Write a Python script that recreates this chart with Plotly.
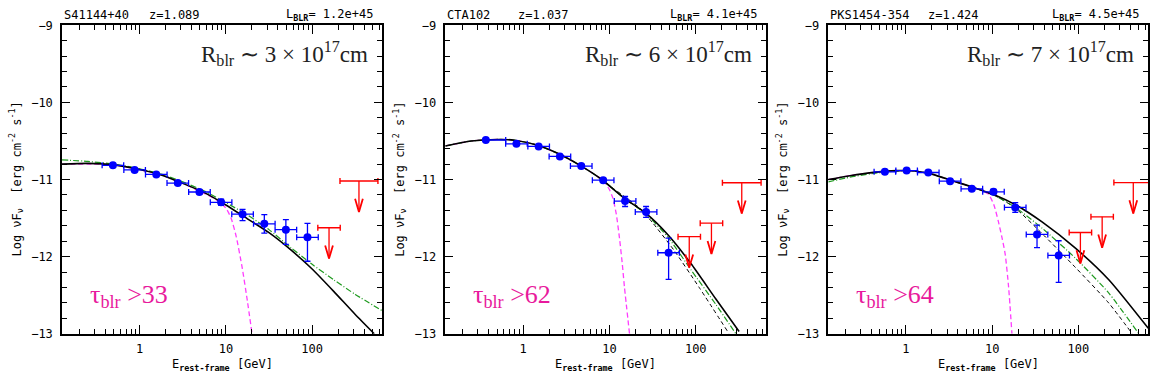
import plotly.graph_objects as go
import numpy as np

# ---------------- data ----------------
# Panel 1 : S41144+40
p1_E = [0.49, 0.875, 1.56, 2.77, 4.94, 8.80, 15.6, 27.9, 49.6, 88.3]
p1_v = [-10.816, -10.875, -10.934, -11.046, -11.162, -11.296, -11.45, -11.575, -11.65, -11.75]
p1_eup = [0.015, 0.015, 0.02, 0.02, 0.025, 0.04, 0.0625, 0.12, 0.13, 0.18]
p1_edn = [0.015, 0.015, 0.02, 0.02, 0.025, 0.04, 0.083, 0.12, 0.19, 0.31]
p1_xm = [0.125] * 10
p1_xp = [0.125] * 10
p1_ul_E = [349, 157]
p1_ul_v = [-11.02, -11.625]
p1_ul_w = [0.22, 0.13]

p1_black_logE = [-0.90, -0.60, -0.30, 0.0, 0.25, 0.50, 0.75, 1.00, 1.25, 1.50, 1.75, 2.00, 2.25, 2.50, 2.72]
p1_black_v = [-10.80, -10.79, -10.81, -10.87, -10.94, -11.05, -11.17, -11.33, -11.51, -11.69, -11.91, -12.16, -12.45, -12.75, -13.0]
p1_green_logE = [-0.90, -0.60, -0.30, 0.0, 0.25, 0.50, 0.75, 1.00, 1.25, 1.50, 1.75, 2.00, 2.25, 2.50, 2.81]
p1_green_v = [-10.745, -10.765, -10.80, -10.86, -10.93, -11.03, -11.15, -11.30, -11.46, -11.65, -11.88, -12.10, -12.30, -12.49, -12.70]
p1_mag_logE = [-0.90, -0.30, 0.25, 0.50, 0.75, 0.90, 1.00, 1.06, 1.12, 1.19, 1.25, 1.303]
p1_mag_v = [-10.80, -10.81, -10.94, -11.05, -11.18, -11.27, -11.37, -11.50, -11.74, -12.15, -12.58, -13.0]

# Panel 2 : CTA102
p2_E = [0.371, 0.839, 1.517, 2.673, 4.72, 8.47, 15.2, 26.6, 48.5]
p2_v = [-10.4875, -10.5375, -10.571, -10.70, -10.825, -11.008, -11.28, -11.42, -11.95]
p2_eup = [0.012, 0.015, 0.015, 0.02, 0.02, 0.02, 0.06, 0.07, 0.19]
p2_edn = [0.012, 0.015, 0.015, 0.02, 0.02, 0.02, 0.07, 0.07, 0.345]
p2_xm = [0.024, 0.125, 0.125, 0.125, 0.125, 0.125, 0.125, 0.125, 0.125]
p2_xp = [0.23, 0.125, 0.125, 0.125, 0.125, 0.125, 0.125, 0.125, 0.125]
p2_ul_E = [84.1, 152, 341]
p2_ul_v = [-11.741, -11.566, -11.041]
p2_ul_w = [0.13, 0.13, 0.224]

p2_black_logE = [-0.90, -0.60, -0.30, -0.10, 0.15, 0.40, 0.65, 0.90, 1.17, 1.425, 1.68, 1.944, 2.233, 2.502]
p2_black_v = [-10.565, -10.50, -10.48, -10.49, -10.55, -10.66, -10.81, -10.99, -11.24, -11.44, -11.72, -12.09, -12.55, -12.97]
p2_green_logE = [-0.90, -0.60, -0.30, -0.10, 0.15, 0.40, 0.65, 0.90, 1.17, 1.425, 1.68, 1.944, 2.233, 2.464]
p2_green_v = [-10.565, -10.50, -10.48, -10.49, -10.55, -10.66, -10.81, -10.99, -11.24, -11.45, -11.75, -12.17, -12.62, -13.0]
p2_dash_logE = [0.90, 1.05, 1.20, 1.35, 1.50, 1.75, 2.04, 2.386]
p2_dash_v = [-10.99, -11.12, -11.24, -11.37, -11.56, -11.92, -12.40, -13.0]
p2_mag_logE = [-0.90, -0.60, -0.30, -0.10, 0.15, 0.40, 0.65, 0.90, 0.96, 1.00, 1.04, 1.08, 1.117, 1.15, 1.174, 1.233]
p2_mag_v = [-10.565, -10.50, -10.48, -10.49, -10.55, -10.66, -10.81, -10.99, -11.06, -11.13, -11.24, -11.45, -11.76, -12.10, -12.39, -13.0]

# Panel 3 : PKS1454-354
p3_E = [0.570, 1.019, 1.816, 3.25, 5.81, 10.35, 18.5, 33.1, 59.0]
p3_v = [-10.90, -10.884, -10.909, -11.021, -11.121, -11.159, -11.3625, -11.7125, -11.984]
p3_eup = [0.015, 0.015, 0.015, 0.02, 0.02, 0.03, 0.0625, 0.12, 0.19]
p3_edn = [0.015, 0.015, 0.015, 0.02, 0.02, 0.03, 0.0625, 0.17, 0.35]
p3_xm = [0.125] * 9
p3_xp = [0.125] * 9
p3_ul_E = [105.4, 188.4, 432.5]
p3_ul_v = [-11.6875, -11.484, -11.04]
p3_ul_w = [0.13, 0.13, 0.225]

p3_black_logE = [-0.90, -0.65, -0.40, -0.10, 0.10, 0.30, 0.55, 0.80, 1.05, 1.267, 1.578, 1.965, 2.352, 2.81]
p3_black_v = [-11.00, -10.95, -10.91, -10.885, -10.89, -10.93, -11.02, -11.11, -11.21, -11.325, -11.55, -11.89, -12.30, -12.93]
p3_green_logE = [-0.90, -0.65, -0.40, -0.10, 0.10, 0.30, 0.55, 0.80, 1.05, 1.267, 1.578, 1.965, 2.35, 2.70]
p3_green_v = [-11.03, -10.97, -10.925, -10.89, -10.89, -10.93, -11.02, -11.11, -11.22, -11.36, -11.63, -12.02, -12.47, -13.0]
p3_dash_logE = [0.80, 1.05, 1.267, 1.578, 1.965, 2.35, 2.624]
p3_dash_v = [-11.11, -11.22, -11.37, -11.70, -12.14, -12.60, -13.0]
p3_mag_logE = [-0.90, -0.65, -0.40, -0.10, 0.10, 0.30, 0.55, 0.80, 0.88, 0.957, 1.02, 1.073, 1.115, 1.151, 1.19, 1.229]
p3_mag_v = [-11.00, -10.95, -10.91, -10.885, -10.89, -10.93, -11.02, -11.11, -11.14, -11.19, -11.33, -11.55, -11.76, -11.97, -12.39, -13.0]

names = ["S41144+40", "CTA102", "PKS1454-354"]
redshifts = ["z=1.089", "z=1.037", "z=1.424"]
lblr = ["1.2e+45", "4.1e+45", "4.5e+45"]
rblr = ["3", "6", "7"]
taus = ["33", "62", "64"]

x_ticks = [1, 10, 100]
y_ticks = [-13, -12, -11, -10, -9]

# ---------------- layout geometry ----------------
W, H = 1160, 387
x_doms = [(62 / W, 382 / W), (445.3 / W, 765.7 / W), (828.3 / W, 1148.3 / W)]
y_dom = (1 - 339 / H, 1 - 19 / H)
z_off = [85, 71, 98]  # px from panel left where "z=" starts

BLUE = "#0000ff"
RED = "#ff0000"
MAG = "#ff3cff"
TAUC = "#e8199c"
GREEN = "#1f9a1f"

panels = [
    dict(E=p1_E, v=p1_v, eup=p1_eup, edn=p1_edn, xm=p1_xm, xp=p1_xp,
         ulE=p1_ul_E, ulv=p1_ul_v, ulw=p1_ul_w,
         black=(p1_black_logE, p1_black_v), green=(p1_green_logE, p1_green_v),
         dash=None, mag=(p1_mag_logE, p1_mag_v)),
    dict(E=p2_E, v=p2_v, eup=p2_eup, edn=p2_edn, xm=p2_xm, xp=p2_xp,
         ulE=p2_ul_E, ulv=p2_ul_v, ulw=p2_ul_w,
         black=(p2_black_logE, p2_black_v), green=(p2_green_logE, p2_green_v),
         dash=(p2_dash_logE, p2_dash_v), mag=(p2_mag_logE, p2_mag_v)),
    dict(E=p3_E, v=p3_v, eup=p3_eup, edn=p3_edn, xm=p3_xm, xp=p3_xp,
         ulE=p3_ul_E, ulv=p3_ul_v, ulw=p3_ul_w,
         black=(p3_black_logE, p3_black_v), green=(p3_green_logE, p3_green_v),
         dash=(p3_dash_logE, p3_dash_v), mag=(p3_mag_logE, p3_mag_v)),
]

UL_LEN = 0.40      # arrow length (dex in flux)
AH_H = 0.17        # arrowhead height (flux units)
AH_W = 0.045       # arrowhead half width (dex in energy)

fig = go.Figure()
annotations = []
minor_x = [m * 10.0 ** d for d in (-1, 0, 1, 2) for m in range(2, 10) if m * 10.0 ** d < 650]
axfont = dict(family="DejaVu Sans Mono", size=12, color="black")

for i, p in enumerate(panels):
    xa = "x" if i == 0 else f"x{i+1}"
    ya = "y" if i == 0 else f"y{i+1}"

    def curve(c, color, dash, width):
        lx, lv = c
        fig.add_trace(go.Scatter(x=[10.0 ** t for t in lx], y=lv, mode="lines",
                                 line=dict(color=color, width=width, dash=dash, shape="spline", smoothing=0.6),
                                 xaxis=xa, yaxis=ya, showlegend=False, hoverinfo="skip"))

    curve(p["mag"], MAG, "5px,3px", 1.3)
    if p["dash"] is not None:
        curve(p["dash"], "black", "4px,3px", 1.0)
    curve(p["green"], GREEN, "6px,2px,1px,2px", 1.2)
    curve(p["black"], "black", None, 1.6)

    # data points
    E = np.array(p["E"])
    fig.add_trace(go.Scatter(
        x=E, y=p["v"], mode="markers",
        marker=dict(color=BLUE, size=8),
        error_x=dict(type="data", symmetric=False,
                     array=E * (10.0 ** np.array(p["xp"]) - 1),
                     arrayminus=E * (1 - 10.0 ** (-np.array(p["xm"]))),
                     color=BLUE, thickness=1.3, width=3),
        error_y=dict(type="data", symmetric=False, array=p["eup"], arrayminus=p["edn"],
                     color=BLUE, thickness=1.3, width=3),
        xaxis=xa, yaxis=ya, showlegend=False))

    # upper limits
    uE = np.array(p["ulE"], dtype=float)
    uw = np.array(p["ulw"])
    fig.add_trace(go.Scatter(
        x=uE, y=p["ulv"], mode="markers",
        marker=dict(color="rgba(0,0,0,0)", size=1),
        error_x=dict(type="data", symmetric=False,
                     array=uE * (10.0 ** uw - 1), arrayminus=uE * (1 - 10.0 ** (-uw)),
                     color=RED, thickness=1.4, width=3),
        xaxis=xa, yaxis=ya, showlegend=False, hoverinfo="skip"))
    sx, sy, hx, hy = [], [], [], []
    for e, v in zip(uE, p["ulv"]):
        tip = v - UL_LEN
        sx += [e, e, None]
        sy += [v, tip, None]
        hx += [e * 10 ** (-AH_W), e, e * 10 ** AH_W, None]
        hy += [tip + AH_H, tip, tip + AH_H, None]
    fig.add_trace(go.Scatter(x=sx, y=sy, mode="lines", line=dict(color=RED, width=1.3),
                             xaxis=xa, yaxis=ya, showlegend=False, hoverinfo="skip"))
    fig.add_trace(go.Scatter(x=hx, y=hy, mode="lines", line=dict(color=RED, width=1.8),
                             xaxis=xa, yaxis=ya, showlegend=False, hoverinfo="skip"))

    xkey = "xaxis" if i == 0 else f"xaxis{i+1}"
    ykey = "yaxis" if i == 0 else f"yaxis{i+1}"
    xminor = dict(ticks="inside", ticklen=5, tickwidth=1, tickcolor="black",
                  tickmode="array", tickvals=minor_x)
    yminor = dict(ticks="inside", ticklen=5, tickwidth=1, tickcolor="black", dtick=0.2, tick0=-13)
    fig.layout[xkey] = dict(
        type="log", range=[-0.90, 2.81], domain=list(x_doms[i]), anchor=ya,
        showline=True, linecolor="black", linewidth=1.5, mirror=True,
        ticks="inside", ticklen=9, tickwidth=1.2, tickcolor="black",
        tickmode="array", tickvals=x_ticks, ticktext=[str(t) for t in x_ticks],
        minor=xminor, showgrid=False, zeroline=False, tickfont=axfont, ticklabelstandoff=3)
    fig.layout[ykey] = dict(
        range=[-13, -9], domain=list(y_dom), anchor=xa,
        showline=True, linecolor="black", linewidth=1.5, mirror=True,
        ticks="inside", ticklen=8, tickwidth=1.2, tickcolor="black",
        tickmode="array", tickvals=y_ticks,
        minor=yminor, showgrid=False, zeroline=False, tickfont=axfont, ticklabelstandoff=5)

    # top / right tick-only axes
    n = i + 4
    fig.layout[f"xaxis{n}"] = dict(
        type="log", range=[-0.90, 2.81], overlaying=xa, side="top", anchor=ya,
        showline=False, ticks="inside", ticklen=9, tickwidth=1.2, tickcolor="black",
        tickmode="array", tickvals=x_ticks, showticklabels=False,
        minor=xminor, showgrid=False, zeroline=False)
    fig.layout[f"yaxis{n}"] = dict(
        range=[-13, -9], overlaying=ya, side="right", anchor=xa,
        showline=False, ticks="inside", ticklen=8, tickwidth=1.2, tickcolor="black",
        tickmode="array", tickvals=y_ticks, showticklabels=False,
        minor=yminor, showgrid=False, zeroline=False)
    fig.add_trace(go.Scatter(x=[1], y=[-20], mode="markers", marker=dict(size=1, color="rgba(0,0,0,0)"),
                             xaxis=f"x{n}", yaxis=f"y{n}", showlegend=False, hoverinfo="skip"))

    x0p, x1p = x_doms[i][0] * W, x_doms[i][1] * W
    hdr = dict(family="DejaVu Sans Mono", size=12, color="black")
    annotations += [
        dict(text=names[i], x=x0p / W, y=1 - 8 / H, xref="paper", yref="paper",
             xanchor="left", yanchor="middle", showarrow=False, font=hdr),
        dict(text=redshifts[i], x=(x0p + z_off[i]) / W, y=1 - 8 / H, xref="paper", yref="paper",
             xanchor="left", yanchor="middle", showarrow=False, font=hdr),
        dict(text="L<sub><b>BLR</b></sub>= " + lblr[i], x=(x1p - 7) / W, y=1 - 8 / H,
             xref="paper", yref="paper", xanchor="right", yanchor="middle", showarrow=False, font=hdr),
        dict(text="R<sub>blr</sub> \u223c " + rblr[i] + " \u00d7 10<sup>17</sup>cm",
             x=(x1p - 12) / W, y=1 - 48 / H, xref="paper", yref="paper",
             xanchor="right", yanchor="middle", showarrow=False,
             font=dict(family="Liberation Serif", size=23, color="#222222")),
        dict(text="\u03c4<sub>blr</sub> >" + taus[i], x=(x0p + 26) / W, y=1 - 300 / H,
             xref="paper", yref="paper", xanchor="left", yanchor="middle", showarrow=False,
             font=dict(family="Liberation Serif", size=26, color=TAUC)),
        dict(text="Log \u03bdF<sub>\u03bd</sub>  [erg cm<sup>-2</sup> s<sup>-1</sup>]",
             x=(x0p - 46) / W, y=1 - 179 / H, xref="paper", yref="paper",
             xanchor="center", yanchor="middle", textangle=-90, showarrow=False,
             font=dict(family="DejaVu Sans Mono", size=12, color="black")),
        dict(text="E<sub><b>rest-frame</b></sub> [GeV]", x=(x0p + x1p) / 2 / W, y=1 - 371 / H,
             xref="paper", yref="paper", xanchor="center", yanchor="middle", showarrow=False,
             font=dict(family="DejaVu Sans Mono", size=12, color="black")),
    ]

fig.update_layout(
    width=W, height=H, margin=dict(l=0, r=0, t=0, b=0),
    paper_bgcolor="white", plot_bgcolor="white",
    annotations=annotations, showlegend=False,
)

fig.write_html("out.html")
